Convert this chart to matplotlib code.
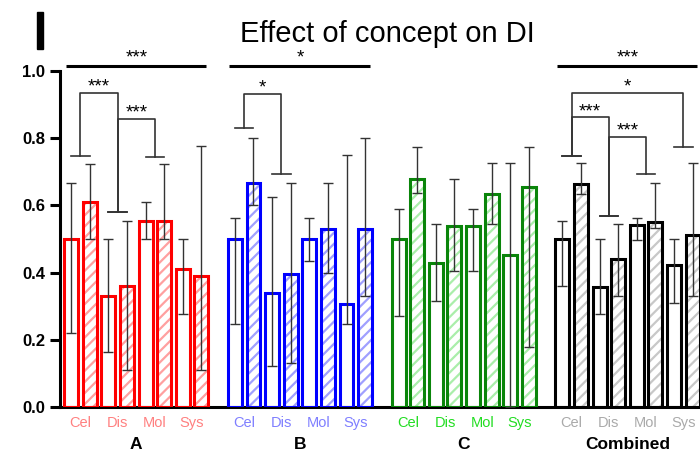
"""Effect of concept on DI - grouped bars with hatched pairs and significance brackets."""

import matplotlib
matplotlib.use("Agg")
import matplotlib.pyplot as plt
from matplotlib.patches import Rectangle

plt.rcParams["font.family"] = ["Liberation Sans", "DejaVu Sans"]
plt.rcParams["hatch.linewidth"] = 1.6

categories = ["Cel", "Dis", "Mol", "Sys"]
groups = ["A", "B", "C", "Combined"]

# 8 bars per group: (category, plain/hatched) pairs
a_vals = [0.50, 0.61, 0.33, 0.36, 0.555, 0.555, 0.41, 0.39]
a_lo = [0.22, 0.50, 0.165, 0.11, 0.50, 0.50, 0.277, 0.11]
a_hi = [0.666, 0.723, 0.50, 0.555, 0.61, 0.723, 0.50, 0.778]

b_vals = [0.50, 0.666, 0.34, 0.395, 0.50, 0.53, 0.307, 0.53]
b_lo = [0.247, 0.60, 0.123, 0.13, 0.436, 0.40, 0.247, 0.33]
b_hi = [0.562, 0.80, 0.626, 0.666, 0.562, 0.666, 0.75, 0.80]

c_vals = [0.50, 0.679, 0.428, 0.54, 0.54, 0.634, 0.451, 0.654]
c_lo = [0.271, 0.636, 0.315, 0.406, 0.406, 0.544, 0.0, 0.18]
c_hi = [0.589, 0.773, 0.544, 0.68, 0.589, 0.725, 0.725, 0.773]

comb_vals = [0.50, 0.664, 0.358, 0.44, 0.542, 0.552, 0.423, 0.512]
comb_lo = [0.361, 0.634, 0.276, 0.33, 0.497, 0.534, 0.31, 0.33]
comb_hi = [0.554, 0.725, 0.499, 0.545, 0.562, 0.666, 0.50, 0.725]

group_data = [(a_vals, a_lo, a_hi), (b_vals, b_lo, b_hi),
              (c_vals, c_lo, c_hi), (comb_vals, comb_lo, comb_hi)]

edge_colors = ["#ff0000", "#0000ff", "#0a850a", "#000000"]
hatch_colors = ["#ffa0a0", "#a0a0ff", "#aaeeaa", "#c8c8c8"]
label_colors = ["#ff8080", "#7f7fff", "#22dd22", "#aaaaaa"]

# significance: group whole-line labels
top_lines = {0: "***", 1: "*", 3: "***"}
# brackets: (group, left pair, right pair, top, left leg bottom, right leg bottom, label)
brackets = [
    (0, 0, 1, 0.935, 0.747, 0.581, "***"),
    (0, 1, 2, 0.858, 0.581, 0.745, "***"),
    (1, 0, 1, 0.933, 0.829, 0.693, "*"),
    (3, 0, 3, 0.935, 0.748, 0.773, "*"),
    (3, 0, 1, 0.862, 0.748, 0.569, "***"),
    (3, 1, 2, 0.804, 0.569, 0.692, "***"),
]

GROUP_STEP = 8.8
WIDTH = 0.75
STAR_SIZE = 13.5

fig = plt.figure(figsize=(7.0, 4.53), dpi=100)
ax = fig.add_axes([60 / 700, 46 / 453, 640 / 700, 336 / 453])

for g, (vals, lo, hi) in enumerate(group_data):
    xs = [g * GROUP_STEP + i for i in range(len(vals))]
    for i, (x, v) in enumerate(zip(xs, vals)):
        if i % 2 == 1:
            ax.bar(x, v, WIDTH, color="white", edgecolor=hatch_colors[g],
                   hatch="///", linewidth=0, zorder=2)
        ax.bar(x, v, WIDTH, facecolor="none", edgecolor=edge_colors[g],
               linewidth=2.2, zorder=3)
    yerr = [[v - l for v, l in zip(vals, lo)], [h - v for v, h in zip(vals, hi)]]
    ax.errorbar(xs, vals, yerr=yerr, fmt="none", ecolor="#333333",
                elinewidth=1.0, capsize=3.6, capthick=1.0, zorder=4)
    for k, cat in enumerate(categories):
        ax.text(g * GROUP_STEP + 2 * k + 0.5, -0.048, cat, ha="center", va="center",
                fontsize=10.5, color=label_colors[g], clip_on=False)
    ax.text(g * GROUP_STEP + 3.5, -0.113, groups[g], ha="center", va="center",
            fontsize=12.5, fontweight="bold", clip_on=False)

for g, lab in top_lines.items():
    x0 = g * GROUP_STEP
    ax.plot([x0 - 0.3, x0 + 7.25], [1.016, 1.016], color="black", lw=2.2,
            clip_on=False, solid_capstyle="butt")
    ax.text(x0 + 3.5, 1.012, lab, ha="center", va="bottom", fontsize=STAR_SIZE,
            clip_on=False)

for g, p1, p2, top, b1, b2, lab in brackets:
    x1 = g * GROUP_STEP + 2 * p1 + 0.5
    x2 = g * GROUP_STEP + 2 * p2 + 0.5
    ax.plot([x1, x1, x2, x2], [b1, top, top, b2], color="#333333", lw=1.2,
            clip_on=False)
    ax.plot([x1 - 0.5, x1 + 0.5], [b1, b1], color="#333333", lw=1.2, clip_on=False)
    ax.plot([x2 - 0.5, x2 + 0.5], [b2, b2], color="#333333", lw=1.2, clip_on=False)
    ax.text((x1 + x2) / 2, top - 0.008, lab, ha="center", va="bottom",
            fontsize=STAR_SIZE, clip_on=False)

ax.set_xlim(-0.6, 33.8)
ax.set_ylim(0, 1.0)
ax.set_yticks([0.0, 0.2, 0.4, 0.6, 0.8, 1.0])
ax.set_yticklabels(["0.0", "0.2", "0.4", "0.6", "0.8", "1.0"], fontweight="bold",
                   fontsize=12)
ax.set_xticks([])
ax.tick_params(axis="y", length=7, width=2.2)
for side in ["top", "right"]:
    ax.spines[side].set_visible(False)
ax.spines["left"].set_linewidth(2.2)
ax.spines["bottom"].set_linewidth(2.2)
ax.spines["bottom"].set_bounds(-0.6, 33.8)

fig.text(387 / 700, 1 - 42 / 453, "Effect of concept on DI", ha="center",
         va="baseline", fontsize=21)
fig.add_artist(Rectangle((37 / 700, 1 - 49 / 453), 6 / 700, 37 / 453,
                         transform=fig.transFigure, color="black"))

fig.savefig("out.png", dpi=100)
